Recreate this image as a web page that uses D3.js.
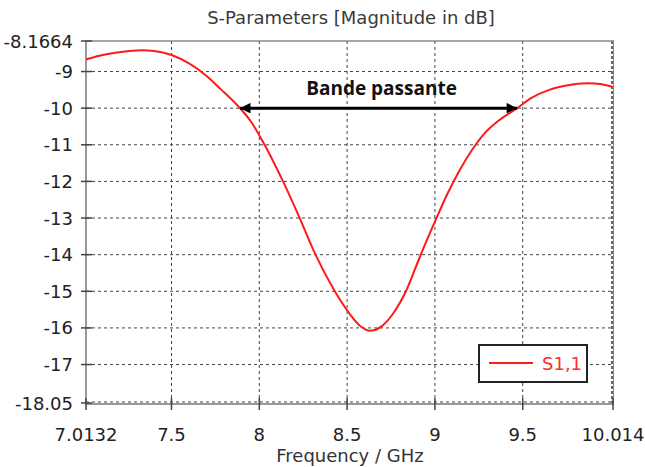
<!DOCTYPE html>
<html>
<head>
<meta charset="utf-8">
<script src="https://cdn.jsdelivr.net/npm/d3@7"></script>
<style>
  body { margin: 0; background: #fff; }
  svg { display: block; }
  .lbl { font-family: "DejaVu Sans", sans-serif; font-size: 18px; fill: #222; }
</style>
</head>
<body>
<script>
// S11 curve
var freq = [7.0132, 7.09, 7.18, 7.26, 7.33, 7.40, 7.50, 7.60, 7.70, 7.78, 7.89, 7.95, 8.03, 8.135,
            8.23, 8.32, 8.43, 8.52, 8.58, 8.63, 8.69, 8.76, 8.835, 8.915, 9.0, 9.07, 9.14,
            9.21, 9.28, 9.36, 9.468, 9.55, 9.65, 9.75, 9.87, 9.95, 10.014];
var s11 = [-8.67, -8.57, -8.49, -8.44, -8.42, -8.44, -8.55, -8.78, -9.12, -9.48, -10.0, -10.35, -11.0, -12.0,
           -13.0, -14.0, -15.0, -15.65, -15.97, -16.08, -15.98, -15.62, -15.0, -14.05, -13.1, -12.35, -11.7,
           -11.15, -10.7, -10.35, -10.0, -9.72, -9.5, -9.38, -9.32, -9.35, -9.42];

var xTicks = [7.0132, 7.5, 8, 8.5, 9, 9.5, 10.014];
var xTickLabels = ["7.0132", "7.5", "8", "8.5", "9", "9.5", "10.014"];
var yTicks = [-8.1664, -9, -10, -11, -12, -13, -14, -15, -16, -17, -18.05];
var yTickLabels = ["-8.1664", "-9", "-10", "-11", "-12", "-13", "-14", "-15", "-16", "-17", "-18.05"];

// band annotation: -10 dB crossings
var band = [7.89, 9.468];
var bandLevel = -10;

var W = 645, H = 467;
var pL = 86, pR = 613, pT = 41, pB = 403;

var svg = d3.select("body").append("svg")
    .attr("width", W)
    .attr("height", H);

var x = d3.scaleLinear().domain([7.0132, 10.014]).range([pL, pR]);
var y = d3.scaleLinear().domain([-18.05, -8.1664]).range([pB, pT]);

// title
svg.append("text")
    .attr("class", "lbl")
    .attr("x", 351).attr("y", 24)
    .attr("text-anchor", "middle")
    .style("fill", "#3a3a3a")
    .text("S-Parameters [Magnitude in dB]");

// grid
var gridX = xTicks.slice(1, -1);
var gridY = yTicks.slice(1, -1);
svg.selectAll(".gx").data(gridX).enter().append("line")
    .attr("x1", function(d){return x(d)}).attr("x2", function(d){return x(d)})
    .attr("y1", pT).attr("y2", pB)
    .attr("stroke", "#444").attr("stroke-width", 1).attr("stroke-dasharray", "3,3");
svg.selectAll(".gy").data(gridY).enter().append("line")
    .attr("x1", pL).attr("x2", pR)
    .attr("y1", function(d){return y(d)}).attr("y2", function(d){return y(d)})
    .attr("stroke", "#444").attr("stroke-width", 1).attr("stroke-dasharray", "3,3");

// frame: dashed bottom and right edges, solid gray axes
svg.append("line").attr("x1", pL).attr("x2", pR).attr("y1", pB - 1).attr("y2", pB - 1)
    .attr("stroke", "#444").attr("stroke-dasharray", "3,3");
svg.append("line").attr("x1", pR - 1).attr("x2", pR - 1).attr("y1", pT).attr("y2", pB)
    .attr("stroke", "#666").attr("stroke-width", 2).attr("stroke-dasharray", "3,2");
svg.append("line").attr("x1", pL).attr("x2", pR + 1).attr("y1", pT).attr("y2", pT)
    .attr("stroke", "#888").attr("stroke-width", 1.5);
svg.append("line").attr("x1", pR + 0.5).attr("x2", pR + 0.5).attr("y1", pT).attr("y2", pB + 2)
    .attr("stroke", "#888").attr("stroke-width", 1);
svg.append("line").attr("x1", pL).attr("x2", pL).attr("y1", pT).attr("y2", pB + 2)
    .attr("stroke", "#777").attr("stroke-width", 1.5);
svg.append("line").attr("x1", pL).attr("x2", pR + 1).attr("y1", pB + 1).attr("y2", pB + 1)
    .attr("stroke", "#777").attr("stroke-width", 1.5);

// y ticks and labels
svg.selectAll(".ty").data(yTicks).enter().append("line")
    .attr("x1", pL - 5).attr("x2", pL + 6)
    .attr("y1", function(d){return y(d)}).attr("y2", function(d){return y(d)})
    .attr("stroke", "#444").attr("stroke-width", 1.5);
svg.selectAll(".ly").data(yTicks).enter().append("text")
    .attr("class", "lbl")
    .attr("x", pL - 13)
    .attr("y", function(d){return y(d) + 6.5})
    .attr("text-anchor", "end")
    .text(function(d, i){return yTickLabels[i]});

// x ticks and labels
svg.selectAll(".tx").data(xTicks).enter().append("line")
    .attr("x1", function(d){return x(d)}).attr("x2", function(d){return x(d)})
    .attr("y1", pB - 5).attr("y2", pB + 7)
    .attr("stroke", "#444").attr("stroke-width", 1.5);
svg.selectAll(".lx").data(xTicks).enter().append("text")
    .attr("class", "lbl")
    .attr("x", function(d){return x(d)})
    .attr("y", 441)
    .attr("text-anchor", "middle")
    .text(function(d, i){return xTickLabels[i]});

svg.append("text")
    .attr("class", "lbl")
    .attr("x", 350).attr("y", 462)
    .attr("text-anchor", "middle")
    .style("fill", "#333")
    .text("Frequency / GHz");

// curve
var pts = freq.map(function(f, i){return [f, s11[i]]});
var line = d3.line()
    .x(function(d){return x(d[0])})
    .y(function(d){return y(d[1])})
    .curve(d3.curveMonotoneX);
svg.append("path")
    .datum(pts)
    .attr("d", line)
    .attr("fill", "none")
    .attr("stroke", "#ff1a1a")
    .attr("stroke-width", 2);

// band arrow
var defs = svg.append("defs");
defs.append("marker").attr("id", "ah")
    .attr("viewBox", "0 0 10 10").attr("refX", 10).attr("refY", 5)
    .attr("markerWidth", 4.5).attr("markerHeight", 3.5)
    .attr("markerUnits", "strokeWidth")
    .attr("orient", "auto-start-reverse")
    .append("path").attr("d", "M0,0 L10,5 L0,10 z").attr("fill", "#000");
svg.append("line")
    .attr("x1", x(band[0])).attr("x2", x(band[1]))
    .attr("y1", y(bandLevel)).attr("y2", y(bandLevel))
    .attr("stroke", "#000").attr("stroke-width", 3)
    .attr("marker-start", "url(#ah)").attr("marker-end", "url(#ah)");
svg.append("text")
    .attr("x", (x(band[0]) + x(band[1])) / 2 + 3)
    .attr("y", 95)
    .attr("text-anchor", "middle")
    .style("font-family", "'Open Sans', sans-serif")
    .style("font-weight", "bold")
    .style("font-size", "19px")
    .style("fill", "#111")
    .text("Bande passante");

// legend
var lg = svg.append("g");
lg.append("rect").attr("x", 479).attr("y", 345).attr("width", 108).attr("height", 37)
    .attr("fill", "#fff").attr("stroke", "#222").attr("stroke-width", 2);
lg.append("line").attr("x1", 489).attr("x2", 533).attr("y1", 363).attr("y2", 363)
    .attr("stroke", "#ff1a1a").attr("stroke-width", 2);
lg.append("text").attr("class", "lbl").attr("x", 542).attr("y", 370)
    .style("fill", "#ff2a2a")
    .text("S1,1");
</script>
</body>
</html>
